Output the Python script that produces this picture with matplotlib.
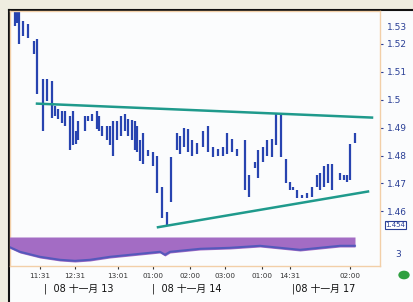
import numpy as np
import matplotlib.pyplot as plt

plt.rcParams['font.family'] = ['DejaVu Sans', 'Noto Sans CJK SC']

# ---- дані (час у довільних одиницях, ціни) ----
bar_t = [15, 17, 19, 23, 28, 34, 37, 43, 47, 52, 55, 58, 62, 65, 70, 73, 76, 78,
         85, 88, 92, 97, 99, 102, 107, 110, 113, 117, 121, 125, 128, 132, 135, 137,
         140, 143, 148, 153, 157, 162, 167, 171, 177, 180, 184, 188, 192, 197, 203,
         208, 213, 218, 223, 227, 232, 237, 245, 249, 255, 258, 263, 267, 272, 276,
         281, 286, 290, 293, 297, 302, 307, 312, 317, 320, 324, 328, 332, 340, 344,
         347, 350, 355]
bar_high = [1.5350, 1.5350, 1.5350, 1.5282, 1.5271, 1.5211, 1.5218, 1.5075, 1.5075,
            1.5068, 1.4979, 1.4968, 1.4961, 1.4961, 1.4943, 1.4961, 1.4889, 1.4925,
            1.4943, 1.4943, 1.4950, 1.4961, 1.4943, 1.4907, 1.4907, 1.4907, 1.4925,
            1.4925, 1.4943, 1.4950, 1.4932, 1.4929, 1.4925, 1.4907, 1.4854, 1.4879,
            1.4818, 1.4811, 1.4800, 1.4686, 1.4596, 1.4793, 1.4879, 1.4871, 1.4900,
            1.4896, 1.4854, 1.4846, 1.4889, 1.4907, 1.4829, 1.4825, 1.4829, 1.4882,
            1.4861, 1.4825, 1.4854, 1.4729, 1.4775, 1.4818, 1.4829, 1.4854, 1.4861,
            1.4950, 1.4954, 1.4789, 1.4704, 1.4686, 1.4675, 1.4657, 1.4664, 1.4686,
            1.4729, 1.4739, 1.4764, 1.4771, 1.4771, 1.4739, 1.4729, 1.4729, 1.4843,
            1.4879]
bar_low = [1.5264, 1.5275, 1.5200, 1.5229, 1.5221, 1.5164, 1.5021, 1.4889, 1.4996,
           1.4936, 1.4943, 1.4932, 1.4918, 1.4907, 1.4818, 1.4836, 1.4843, 1.4854,
           1.4889, 1.4925, 1.4925, 1.4896, 1.4889, 1.4871, 1.4854, 1.4836, 1.4800,
           1.4854, 1.4871, 1.4889, 1.4871, 1.4854, 1.4818, 1.4811, 1.4782, 1.4771,
           1.4800, 1.4764, 1.4664, 1.4575, 1.4550, 1.4632, 1.4818, 1.4807, 1.4829,
           1.4811, 1.4800, 1.4807, 1.4829, 1.4811, 1.4793, 1.4800, 1.4800, 1.4807,
           1.4811, 1.4800, 1.4675, 1.4650, 1.4754, 1.4721, 1.4775, 1.4800, 1.4793,
           1.4836, 1.4793, 1.4700, 1.4675, 1.4675, 1.4646, 1.4646, 1.4646, 1.4650,
           1.4686, 1.4675, 1.4686, 1.4700, 1.4675, 1.4711, 1.4711, 1.4704, 1.4711,
           1.4846]

# лінії тренду
upper_t = [37, 372]
upper_p = [1.4986, 1.4936]
lower_t = [158, 368]
lower_p = [1.4543, 1.4671]

# індикатор (нижня панель)
ind_t = [9, 20, 40, 60, 75, 90, 110, 130, 150, 160, 165, 170, 180, 200, 230, 260,
         280, 300, 320, 340, 355]
ind_v = [-11, -16, -21, -24, -25, -24, -21, -19, -17, -16, -19, -16, -15, -13, -12,
         -10, -12, -14, -12, -10, -10]

price_ticks = [1.52, 1.51, 1.50, 1.49, 1.48, 1.47, 1.46]
price_labels = ['1.52', '1.51', '1.5', '1.49', '1.48', '1.47', '1.46']
time_ticks = [40, 75, 118, 153, 190, 225, 262, 290, 350]
time_labels = ['11:31', '12:31', '13:01', '01:00', '02:00', '03:00', '01:00',
               '14:31', '02:00']
day_t = [44, 152, 292]
day_labels = ['|  08 十一月 13', '|  08 十一月 14', '|08 十一月 17']

W, H = 414, 302
fig = plt.figure(figsize=(W / 100, H / 100), dpi=100, facecolor='#efede0')

# біле поле та чорна рамка
bg = fig.add_axes([9 / W, 0, 1 - 9 / W, (H - 10) / H])
bg.set_facecolor('#fbfcfd')
bg.set_xticks([])
bg.set_yticks([])
for s in ['right', 'bottom']:
    bg.spines[s].set_visible(False)
bg.spines['left'].set_color('#111111')
bg.spines['top'].set_color('#111111')
bg.spines['left'].set_linewidth(1.5)
bg.spines['top'].set_linewidth(1.5)

ax = fig.add_axes([10 / W, (H - 266) / H, (380 - 10) / W, (266 - 11) / H])
ax.set_facecolor('none')
for s in ax.spines.values():
    s.set_color('#f2cfa8')
    s.set_linewidth(1.0)
ax.set_xlim(10, 380)
ax.set_ylim(1.4404, 1.5318)

ax.vlines(bar_t, bar_low, bar_high, color='#2844b0', lw=1.6)
ax.plot(upper_t, upper_p, color='#1f9a8c', lw=1.8)
ax.plot(lower_t, lower_p, color='#1f9a8c', lw=1.8)

ax.yaxis.tick_right()
ax.set_yticks(price_ticks)
ax.set_yticklabels(price_labels)
ax.tick_params(axis='y', length=2, pad=3, labelsize=6.5, colors='#2a3f96')
ax.set_xticks(time_ticks)
ax.set_xticklabels(time_labels)
ax.tick_params(axis='x', length=2, pad=3, labelsize=5.2, colors='#333333')

xt = ax.get_xaxis_transform()
for t, lab in zip(day_t, day_labels):
    ax.text(t, -0.09, lab, transform=xt, ha='left', va='center', fontsize=7,
            color='#111111', family=['DejaVu Sans', 'Noto Sans CJK SC'],
            clip_on=False)

ax.text(1.02, 0.935, '1.53', transform=ax.transAxes, fontsize=6.5,
        color='#2a3f96', va='center')
ax.text(1.015, 0.16, '1.454', transform=ax.transAxes, fontsize=5,
        color='#2a3f96', va='center',
        bbox=dict(boxstyle='square,pad=0.15', fc='white', ec='#2a3f96', lw=0.8))
ax.text(1.04, 0.045, '3', transform=ax.transAxes, fontsize=6.5,
        color='#2a3f96', va='center')

# індикатор
ax2 = fig.add_axes([10 / W, (H - 265) / H, (380 - 10) / W, (265 - 237) / H])
ax2.set_facecolor('none')
ax2.axis('off')
ax2.set_xlim(10, 380)
ax2.set_ylim(-28, 0)
ax2.fill_between(ind_t, 0, ind_v, color='#a36cc4', lw=0)
ax2.plot(ind_t, np.array(ind_v) + 1.2, color='#3450b8', lw=1.5, alpha=0.7)

fig.patches.append(plt.Circle((404 / W, 1 - 275 / H), 0.012, color='#2fa040',
                              transform=fig.transFigure))

plt.savefig('out.png', dpi=100, facecolor=fig.get_facecolor())
